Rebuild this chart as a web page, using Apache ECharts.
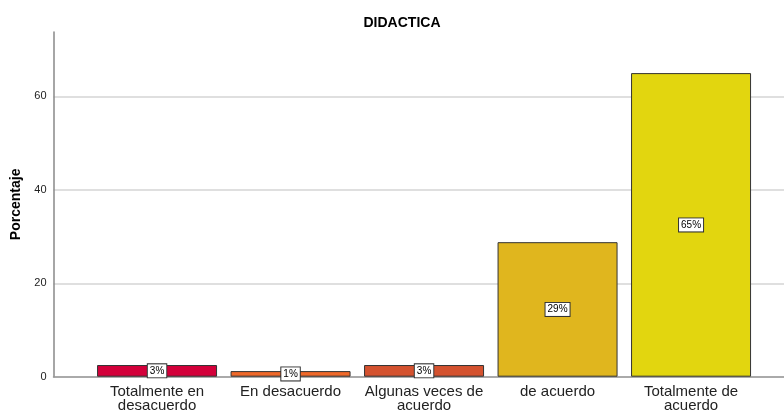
<!DOCTYPE html>
<html>
<head>
<meta charset="utf-8">
<script src="https://cdn.jsdelivr.net/npm/echarts@6/dist/echarts.min.js"></script>
<style>
  html, body { margin: 0; padding: 0; background: #fff; }
  #chart { width: 784px; height: 411px; }
</style>
</head>
<body>
<div id="chart"></div>
<script>
  // categorias y porcentajes
  const categories = ['Totalmente en\ndesacuerdo', 'En desacuerdo', 'Algunas veces de\nacuerdo', 'de acuerdo', 'Totalmente de\nacuerdo'];
  const values = [2.5, 1.2, 2.5, 28.8, 65.0];
  const barColors = ['#D3003A', '#F0692A', '#D4522F', '#E0B61E', '#E2D60F'];
  const yTicks = [0, 20, 40, 60];

  const yMax = 73.8;
  const font = 'Liberation Sans, Arial, sans-serif';

  const chart = echarts.init(document.getElementById('chart'));
  chart.setOption({
    backgroundColor: '#ffffff',
    animation: false,
    title: {
      text: 'DIDACTICA',
      left: 397,
      textAlign: 'center',
      top: 11,
      textStyle: { fontFamily: font, fontSize: 14, fontWeight: 'bold', color: '#000' }
    },
    // grid 0: ejes y lineas de fondo, grid 1: barras
    grid: [
      { left: 53.5, right: 0, top: 32, bottom: 34.3, outerBoundsMode: 'none', containLabel: false },
      { left: 90.3, right: 26.2, top: 32, bottom: 34.3, outerBoundsMode: 'none', containLabel: false }
    ],
    xAxis: [{
      gridIndex: 0,
      type: 'value',
      min: 0,
      max: 1,
      axisLine: { show: true, onZero: false, lineStyle: { color: '#999', width: 1.5 } },
      axisTick: { show: false },
      axisLabel: { show: false },
      splitLine: { show: false }
    }, {
      gridIndex: 1,
      type: 'category',
      data: categories,
      axisLine: { show: false },
      axisTick: { show: false },
      axisLabel: {
        interval: 0,
        margin: 8,
        fontFamily: font,
        fontSize: 15,
        lineHeight: 14,
        color: '#222'
      }
    }],
    yAxis: [{
      gridIndex: 0,
      type: 'value',
      min: 0,
      max: yMax,
      interval: 20,
      name: 'Porcentaje',
      nameLocation: 'middle',
      nameGap: 28,
      nameTextStyle: { fontFamily: font, fontSize: 14, fontWeight: 'bold', color: '#000' },
      axisLine: { show: true, lineStyle: { color: '#888', width: 1.5 } },
      axisTick: { show: false },
      axisLabel: {
        showMaxLabel: false,
        margin: 7,
        fontFamily: font,
        fontSize: 11,
        color: '#222',
        formatter: v => yTicks.includes(v) ? v : ''
      },
      splitLine: { show: true, showMaxLine: false, lineStyle: { color: '#d4d4d4', width: 1.5 } }
    }, {
      gridIndex: 1,
      type: 'value',
      min: 0,
      max: yMax,
      show: false,
      splitLine: { show: false }
    }],
    series: [{
      type: 'bar',
      xAxisIndex: 1,
      yAxisIndex: 1,
      barWidth: 120,
      data: values.map((v, i) => ({
        value: v,
        itemStyle: { color: barColors[i] }
      })),
      itemStyle: { borderColor: '#333', borderWidth: 1 },
      label: {
        show: true,
        position: 'inside',
        formatter: p => Math.round(p.value) + '%',
        fontFamily: font,
        fontSize: 10,
        color: '#000',
        backgroundColor: '#fff',
        borderColor: '#333',
        borderWidth: 1,
        padding: [2, 2, 1, 2]
      }
    }]
  });
</script>
</body>
</html>
